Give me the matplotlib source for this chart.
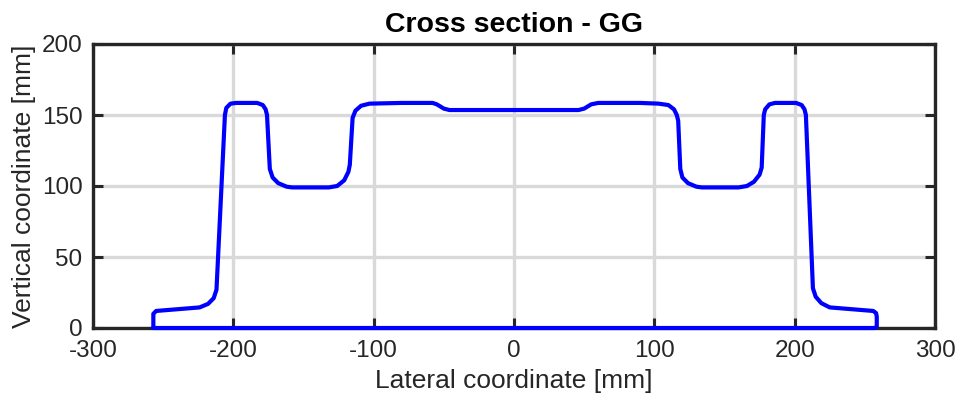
import matplotlib
matplotlib.use("Agg")
import matplotlib.pyplot as plt

plt.rcParams['font.family'] = ['Liberation Sans', 'DejaVu Sans']
plt.rcParams['axes.unicode_minus'] = False

# Cross-section outline (lateral mm, vertical mm)
lateral = [-257, -257, -255, -224, -218, -214, -212, -206, -205, -202, -198,
           -183, -179, -177, -176, -174, -172, -168, -162, -158, -132, -126,
           -121, -118, -117, -115, -113, -109, -103, -80, -58, -55, -50, -46,
           46, 50, 55, 60, 90, 103, 110, 114, 116, 117, 118.5, 120, 124, 130,
           134, 160, 166, 171, 175, 176.5, 178, 179, 182, 186, 201, 205, 207,
           208, 213, 215, 219, 225, 256, 258, 258.5, 258.5, 257, -257]
vertical = [0, 10, 12, 14.5, 17, 21, 27, 150, 155, 158, 158.5,
            158.5, 157, 154, 150, 112, 106, 102, 99.5, 99, 99, 100,
            104, 110, 115, 148, 153, 156.5, 158, 158.5, 158.5, 157.5, 154.5, 153.5,
            153.5, 154.5, 157.5, 158.5, 158.5, 158, 157, 154, 150, 146, 112, 106, 102, 99.5,
            99, 99, 100, 103, 108, 113, 150, 154, 157.5, 158.5, 158.5, 157, 154,
            150, 28, 22, 17.5, 14.5, 12, 10.5, 8, 1, 0, 0]

x_ticks = [-300, -200, -100, 0, 100, 200, 300]
y_ticks = [0, 50, 100, 150, 200]

fig = plt.figure(figsize=(9.65, 4.08), dpi=100)
ax = fig.add_axes([93/965, 1-328/408, (935-93)/965, (328-44)/408])

ax.plot(lateral, vertical, color='#0000ff', lw=3.0, solid_joinstyle='round',
        solid_capstyle='round', zorder=3, clip_on=False)

ax.set_xlim(-300, 300)
ax.set_ylim(0, 200)
ax.set_xticks(x_ticks)
ax.set_yticks(y_ticks)
ax.grid(True, color='#d9d9d9', lw=2.4)
ax.set_axisbelow(True)

for s in ax.spines.values():
    s.set_linewidth(2.4)
    s.set_color('#262626')
    s.set_zorder(2.5)
ax.tick_params(direction='in', length=7, width=2.2, colors='#262626',
               labelsize=17.5, top=True, right=True)
ax.tick_params(axis='x', pad=8.5)
ax.tick_params(axis='y', pad=7.5)
for lab in ax.get_xticklabels() + ax.get_yticklabels():
    lab.set_color('#262626')

ax.set_xlabel('Lateral coordinate [mm]', fontsize=19, color='#262626', labelpad=5.5)
ax.set_ylabel('Vertical coordinate [mm]', fontsize=19, color='#262626', labelpad=4)
ax.set_title('Cross section - GG', fontsize=20.5, fontweight='bold', pad=8.5)

fig.savefig('out.png', dpi=100)
